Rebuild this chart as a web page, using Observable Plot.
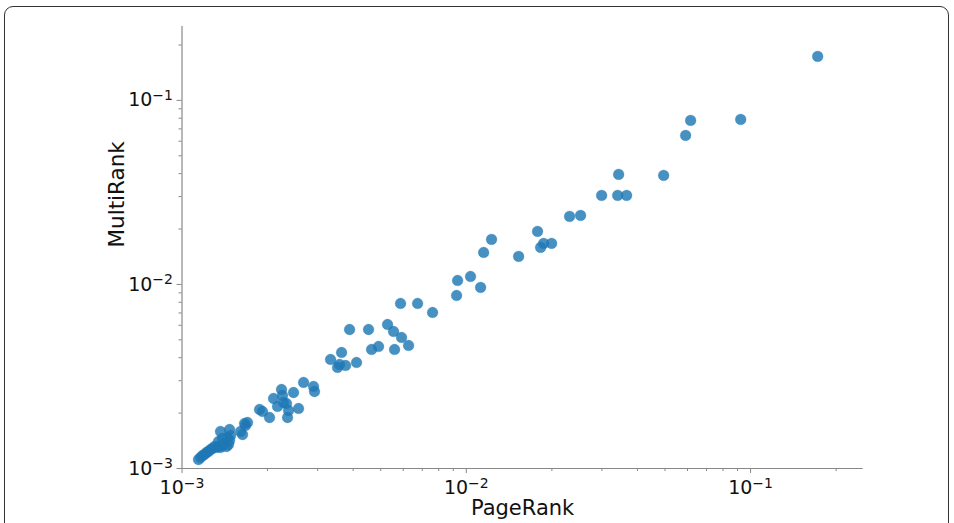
<!DOCTYPE html>
<html>
<head>
<meta charset="utf-8">
<script src="https://cdn.jsdelivr.net/npm/d3@7"></script>
<script src="https://cdn.jsdelivr.net/npm/@observablehq/plot@0.6"></script>
<style>
  html, body { margin: 0; padding: 0; background: #fff; }
  #wrap { position: relative; width: 954px; height: 523px; overflow: hidden; }
  #frame { position: absolute; left: 4px; top: 6px; width: 945px; height: 560px;
           border: 1px solid #333; border-radius: 9px; box-sizing: border-box; }
  #chart { position: absolute; left: 0; top: 0; }
</style>
</head>
<body>
<div id="wrap"><div id="frame"></div><div id="chart"></div></div>
<script>
// PageRank (x) and MultiRank (y) values
const pagerank = [
  1.143e-3, 1.162e-3, 1.181e-3, 1.200e-3, 1.219e-3, 1.239e-3, 1.260e-3, 1.280e-3, 1.301e-3, 1.323e-3,
  1.344e-3, 1.366e-3, 1.388e-3, 1.411e-3, 1.434e-3, 1.458e-3, 1.470e-3, 1.446e-3, 1.366e-3, 1.470e-3,
  1.482e-3, 1.388e-3, 1.344e-3, 1.606e-3, 1.633e-3, 1.673e-3, 1.700e-3, 1.660e-3, 1.874e-3, 1.920e-3,
  2.032e-3, 2.099e-3, 2.239e-3, 2.257e-3, 2.276e-3, 2.168e-3, 2.332e-3, 2.370e-3, 2.351e-3, 2.468e-3,
  2.570e-3, 2.677e-3, 2.902e-3, 2.925e-3, 3.331e-3, 3.583e-3, 3.525e-3, 3.762e-3, 3.642e-3, 4.111e-3,
  3.886e-3, 4.531e-3, 4.643e-3, 4.914e-3, 5.286e-3, 5.549e-3, 5.594e-3, 5.920e-3, 6.266e-3, 5.872e-3,
  6.741e-3, 7.611e-3, 9.245e-3, 9.321e-3, 1.035e-2, 1.123e-2, 1.151e-2, 1.227e-2, 1.528e-2, 1.781e-2,
  1.871e-2, 1.826e-2, 1.996e-2, 2.309e-2, 2.524e-2, 2.993e-2, 3.408e-2, 3.664e-2, 3.435e-2, 4.946e-2,
  5.909e-2, 6.154e-2, 9.232e-2, 0.1722
];
const multirank = [
  1.119e-3, 1.148e-3, 1.177e-3, 1.191e-3, 1.222e-3, 1.237e-3, 1.268e-3, 1.284e-3, 1.317e-3, 1.301e-3,
  1.317e-3, 1.301e-3, 1.334e-3, 1.367e-3, 1.317e-3, 1.350e-3, 1.420e-3, 1.474e-3, 1.589e-3, 1.629e-3,
  1.511e-3, 1.456e-3, 1.402e-3, 1.589e-3, 1.530e-3, 1.713e-3, 1.778e-3, 1.756e-3, 2.093e-3, 2.041e-3,
  1.893e-3, 2.401e-3, 2.688e-3, 2.493e-3, 2.284e-3, 2.173e-3, 2.255e-3, 2.066e-3, 1.893e-3, 2.588e-3,
  2.119e-3, 2.934e-3, 2.791e-3, 2.621e-3, 3.912e-3, 3.675e-3, 3.540e-3, 3.629e-3, 4.270e-3, 3.768e-3,
  5.692e-3, 5.692e-3, 4.433e-3, 4.603e-3, 6.061e-3, 5.553e-3, 4.433e-3, 5.152e-3, 4.661e-3, 7.884e-3,
  7.884e-3, 7.043e-3, 8.712e-3, 1.051e-2, 1.105e-2, 9.632e-3, 1.492e-2, 1.756e-2, 1.420e-2, 1.941e-2,
  1.671e-2, 1.589e-2, 1.671e-2, 2.343e-2, 2.371e-2, 3.045e-2, 3.045e-2, 3.045e-2, 3.962e-2, 3.913e-2,
  6.453e-2, 7.782e-2, 7.880e-2, 0.1734
];
const majorTicks = [1e-3, 1e-2, 1e-1];
const majorTickLabels = ["10^−3", "10^−2", "10^−1"];
const xMinorTicks = [2e-3,3e-3,4e-3,5e-3,6e-3,7e-3,8e-3,9e-3,2e-2,3e-2,4e-2,5e-2,6e-2,7e-2,8e-2,9e-2,2e-1];
const yMinorTicks = [2e-3,3e-3,4e-3,5e-3,6e-3,7e-3,8e-3,9e-3,2e-2,3e-2,4e-2,5e-2,6e-2,7e-2,8e-2,9e-2,2e-1];
const xLabel = "PageRank";
const yLabel = "MultiRank";

const data = pagerank.map((p, i) => ({pagerank: p, multirank: multirank[i]}));
const fmt = v => majorTickLabels[majorTicks.indexOf(v)];

const chart = Plot.plot({
  width: 954,
  height: 523,
  marginLeft: 181.5,
  marginRight: 91.3,
  marginTop: 26,
  marginBottom: 55,
  style: {fontFamily: "'DejaVu Sans', sans-serif", fontSize: "19px", color: "#111", background: "transparent"},
  x: {type: "log", domain: [1e-3, 0.249]},
  y: {type: "log", domain: [1e-3, 0.252]},
  marks: [
    Plot.axisX(xMinorTicks, {tickSize: 3, stroke: "#888", text: null, label: null}),
    Plot.axisY(yMinorTicks, {tickSize: 3, stroke: "#888", text: null, label: null}),
    Plot.axisX(majorTicks, {tickSize: 5, stroke: "#888", tickPadding: 7, tickFormat: fmt, label: null, fill: "#111", fontSize: 19}),
    Plot.axisY(majorTicks, {tickSize: 5, stroke: "#888", tickPadding: 4, tickFormat: fmt, label: null, fill: "#111", fontSize: 19}),
    Plot.ruleY([1e-3], {stroke: "#888", strokeWidth: 1.2}),
    Plot.ruleX([1e-3], {stroke: "#888", strokeWidth: 1.2}),
    Plot.dot(data, {x: "pagerank", y: "multirank", r: 5.4, fill: "#1f77b4", fillOpacity: 0.82, stroke: "#1f77b4", strokeOpacity: 0.5, strokeWidth: 0.5}),
    Plot.text([xLabel], {text: d => d, frameAnchor: "bottom", dy: 46, fontSize: 21, fill: "#111"}),
    Plot.text([yLabel], {text: d => d, frameAnchor: "left", dx: -65, rotate: -90, fontSize: 21.5, fill: "#111"})
  ]
});

// turn "10^−2" tick labels into 10 with a raised exponent
chart.querySelectorAll('g[aria-label$="tick label"] text').forEach(t => {
  const s = t.textContent;
  if (!s.includes("^")) return;
  const [base, exp] = s.split("^");
  t.textContent = base;
  const ts = document.createElementNS("http://www.w3.org/2000/svg", "tspan");
  ts.setAttribute("dy", "-0.45em");
  ts.setAttribute("font-size", "14px");
  ts.textContent = exp;
  t.appendChild(ts);
});

document.getElementById("chart").appendChild(chart);
</script>
</body>
</html>
